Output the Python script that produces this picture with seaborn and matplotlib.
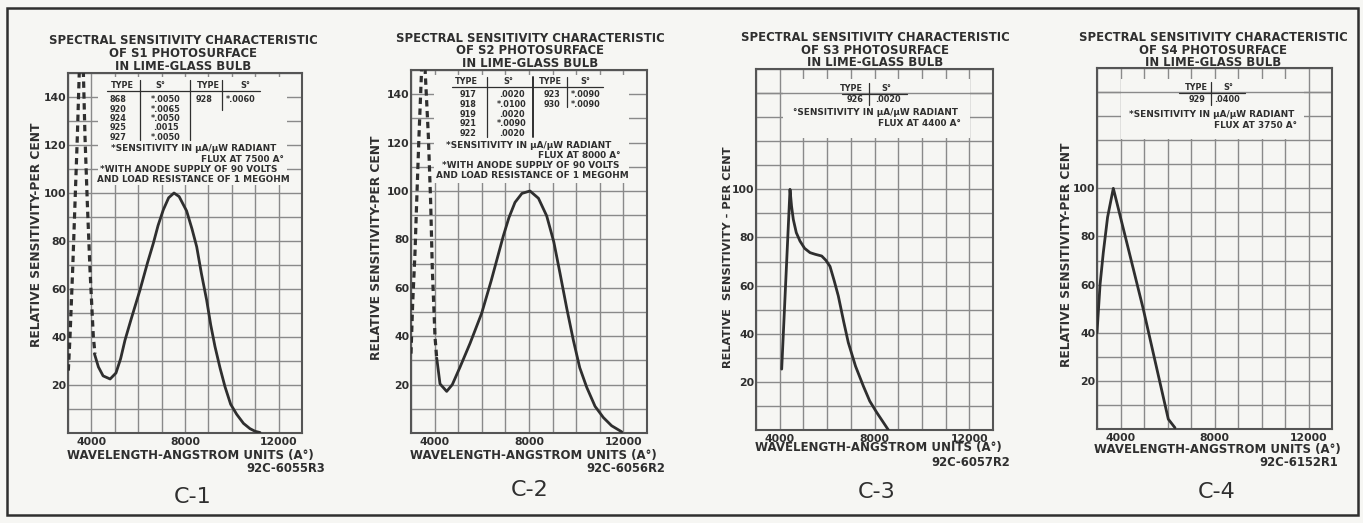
import matplotlib
matplotlib.use("Agg")
import matplotlib.pyplot as plt
import seaborn as sns
from matplotlib.patches import Rectangle
from matplotlib.lines import Line2D

W, H = 1363, 523

# --- S1 photosurface (C-1) ---
s1_wave = [4130, 4300, 4500, 4800, 5050, 5250, 5436, 5700, 6077, 6400, 6645, 6850,
           7073, 7300, 7530, 7750, 8070, 8300, 8500, 8700, 8925, 9100, 9282, 9500,
           9709, 9950, 10208, 10500, 10778, 11000, 11205]
s1_sens = [33, 27.5, 23.8, 22.5, 25, 31, 38.7, 47.5, 59.6, 71, 79, 86.5,
           93, 98, 100, 98.5, 92.5, 85, 77.6, 66.5, 55.4, 45, 36, 27,
           19.3, 12, 7.8, 4, 1.8, 0.7, 0.2]
s1_uv_left_wave = [3014, 3085, 3199, 3299, 3399, 3484]
s1_uv_left_sens = [26, 40, 68, 95.8, 123.5, 151]
s1_uv_right_wave = [3655, 3726, 3826, 3940, 4083, 4154]
s1_uv_right_sens = [151, 123.5, 95.8, 68, 40, 33]

# --- S2 photosurface (C-2) ---
s2_wave = [4090, 4229, 4512, 4750, 5076, 5500, 5995, 6400, 6911, 7150, 7407, 7700,
           8042, 8400, 8750, 9050, 9314, 9600, 9880, 10150, 10445, 10800, 11150,
           11500, 11928]
s2_sens = [31, 20.3, 17.2, 20, 27.2, 37, 49.5, 63, 81.4, 89, 95.3, 99,
           100, 97, 89.7, 79, 66, 51.5, 38.3, 27, 18.9, 11, 6.4,
           3, 0.5]
s2_uv_left_wave = [3000, 3071, 3169, 3240, 3339, 3453]
s2_uv_left_sens = [32.8, 53.6, 74.5, 95.3, 123, 151]
s2_uv_right_wave = [3593, 3734, 3833, 3904, 4017, 4089]
s2_uv_right_sens = [151, 123, 95.3, 67.5, 39.7, 31]

# --- S3 photosurface (C-3) ---
s3_wave = [4084, 4435, 4500, 4574, 4700, 4857, 5050, 5278, 5500, 5772, 5950, 6122,
           6300, 6473, 6700, 6895, 7200, 7527, 7800, 8093, 8350, 8586]
s3_sens = [25.3, 100, 93, 87.5, 82, 78.5, 75.5, 73.7, 73, 72.3, 70.5, 68,
           62, 55.7, 45, 36.3, 26.5, 18.3, 12, 7.3, 3.5, 0]

# --- S4 photosurface (C-4) ---
s4_wave = [3000, 3130, 3268, 3450, 3694, 4330, 4970, 5500, 6034, 6319]
s4_sens = [40, 60, 73.3, 88, 100, 75, 49.8, 27, 4.1, 0.5]

# table contents
s1_types = ["868", "920", "924", "925", "927"]
s1_s0 = ["*.0050", "*.0065", "*.0050", ".0015", "*.0050"]
s1_types_b = ["928"]
s1_s0_b = ["*.0060"]
s2_types = ["917", "918", "919", "921", "922"]
s2_s0 = [".0020", "*.0100", ".0020", "*.0090", ".0020"]
s2_types_b = ["923", "930"]
s2_s0_b = ["*.0090", "*.0090"]
s3_types = ["926"]
s3_s0 = [".0020"]
s4_types = ["929"]
s4_s0 = [".0400"]

surfaces = ["S1", "S2", "S3", "S4"]
flux_at = ["7500", "8000", "4400", "3750"]
drawing_codes = ["92C-6055R3", "92C-6056R2", "92C-6057R2", "92C-6152R1"]
figure_tags = ["C-1", "C-2", "C-3", "C-4"]
yticks_tall = [20, 40, 60, 80, 100, 120, 140]
yticks_short = [20, 40, 60, 80, 100]
xticks = [4000, 8000, 12000]

INK = "#2f2f2f"
GRID = "#8a8a8a"
PAPER = "#f6f6f3"

sns.set_style("white")
plt.rcParams["font.family"] = ["DejaVu Sans"]
plt.rcParams["font.weight"] = "bold"

fig = plt.figure(figsize=(W / 100, H / 100), dpi=100, facecolor=PAPER)


def fp(px, py):
    return px / W, 1 - py / H


def ftext(px, py, s, size, ha="center", weight="bold", **kw):
    x, y = fp(px, py)
    fig.text(x, y, s, fontsize=size, ha=ha, va="center", color=INK,
             fontweight=weight, **kw)


def fline(xs, ys, lw=0.9):
    xx = [x / W for x in xs]
    yy = [1 - y / H for y in ys]
    fig.add_artist(Line2D(xx, yy, transform=fig.transFigure, color=INK, lw=lw))


# pixel boxes of the four plot areas: left, top, right, bottom
boxes = [(68, 73, 302, 433), (411, 70, 647, 433), (756, 69, 993, 430), (1097, 68, 1332, 429)]
blank_boxes = [(4280, 103.5, 12360, 148.5), (3990, 103.5, 12230, 148),
               (4140, 121.5, 12030, 146), (4000, 120.5, 11800, 145.5)]

axes = []
for i, (l, t, r, b) in enumerate(boxes):
    ax = fig.add_axes([l / W, 1 - b / H, (r - l) / W, (b - t) / H])
    ax.set_facecolor(PAPER)
    ax.set_xlim(3000, 13000)
    ax.set_ylim(0, 150)
    ax.set_xticks(xticks)
    ax.set_xticks(range(3000, 13001, 1000), minor=True)
    ax.set_yticks(yticks_tall if i < 2 else yticks_short)
    ax.set_yticks(range(0, 151, 10), minor=True)
    ax.grid(which="both", color=GRID, lw=1.0)
    ax.set_axisbelow(True)
    ax.tick_params(which="both", length=0, labelsize=7.8, colors=INK)
    ax.tick_params(axis="x", pad=3.0)
    ax.tick_params(axis="y", pad=1.2)
    for lab in ax.get_xticklabels() + ax.get_yticklabels():
        lab.set_fontweight("bold")
    for sp in ax.spines.values():
        sp.set_color("#555555")
        sp.set_linewidth(1.5)
    x0, y0, x1, y1 = blank_boxes[i]
    ax.add_patch(Rectangle((x0, y0), x1 - x0, y1 - y0, facecolor=PAPER,
                           edgecolor="none", zorder=1))
    if i >= 2:
        ax.axhline(140, color=GRID, lw=1.0, zorder=1.2)
    axes.append(ax)

solid_kw = dict(color=INK, lw=2.0, sort=False, zorder=3)
dash_kw = dict(color=INK, lw=2.3, sort=False, zorder=3, linestyle=(0, (2.0, 1.4)))

sns.lineplot(x=s1_wave, y=s1_sens, ax=axes[0], **solid_kw)
sns.lineplot(x=s1_uv_left_wave, y=s1_uv_left_sens, ax=axes[0], **dash_kw)
sns.lineplot(x=s1_uv_right_wave, y=s1_uv_right_sens, ax=axes[0], **dash_kw)
sns.lineplot(x=s2_wave, y=s2_sens, ax=axes[1], **solid_kw)
sns.lineplot(x=s2_uv_left_wave, y=s2_uv_left_sens, ax=axes[1], **dash_kw)
sns.lineplot(x=s2_uv_right_wave, y=s2_uv_right_sens, ax=axes[1], **dash_kw)
sns.lineplot(x=s3_wave, y=s3_sens, ax=axes[2], **solid_kw)
sns.lineplot(x=s4_wave, y=s4_sens, ax=axes[3], **solid_kw)

for ax in axes:
    ax.set_xlabel("")
    ax.set_ylabel("")

# titles, axis labels, codes, tags
title_pos = [(183, 53.5), (530, 51), (875, 50), (1213, 50)]
ylabel_pos = [(37, 235), (377, 248), (728, 257), (1066, 255)]
xlabel_pos = [(190, 455), (533, 455), (878, 448), (1217, 450)]
code_pos = [(325, 468), (665, 468), (1010, 462), (1338, 463)]
tag_pos = [(193, 497), (530, 490), (877, 492), (1217, 492)]
for i in range(4):
    ftext(*title_pos[i], "SPECTRAL SENSITIVITY CHARACTERISTIC\nOF %s PHOTOSURFACE\nIN LIME-GLASS BULB"
          % surfaces[i], 8.4, linespacing=0.98)
    ylab = "RELATIVE SENSITIVITY-PER CENT" if i != 2 else "RELATIVE  SENSITIVITY - PER CENT"
    ftext(*ylabel_pos[i], ylab, 8.8 if i != 2 else 8.2, rotation=90)
    ftext(*xlabel_pos[i], "WAVELENGTH-ANGSTROM UNITS (A°)", 8.5)
    ftext(*code_pos[i], drawing_codes[i], 8.4, ha="right")
    ftext(*tag_pos[i], figure_tags[i], 16, weight="normal")

# --- tables of type / sensitivity ---
TS = 5.9
NS = 6.4
# C-1
for s, x in [("TYPE", 122), ("S°", 160), ("TYPE", 208), ("S°", 245)]:
    ftext(x, 85, s, TS)
fline([107, 260], [90.7, 90.7])
fline([140, 140], [80, 140]); fline([190, 190], [80, 140]); fline([222, 222], [80, 110])
for k, yy in enumerate([99.3, 109.3, 118.7, 128, 137.3]):
    ftext(118, yy, s1_types[k], TS)
    ftext(166, yy, s1_s0[k], TS)
ftext(204, 99.3, s1_types_b[0], TS)
ftext(241, 99.3, s1_s0_b[0], TS)
ftext(194, 148.3, "*SENSITIVITY IN \u03bcA/\u03bcW RADIANT", NS)
ftext(284, 159.3, "FLUX AT %s A°" % flux_at[0], NS, ha="right")
ftext(189, 169.3, "*WITH ANODE SUPPLY OF 90 VOLTS", NS)
ftext(193, 179, "AND LOAD RESISTANCE OF 1 MEGOHM", NS)

# C-2
for s, x in [("TYPE", 466.7), ("S°", 508.3), ("TYPE", 550), ("S°", 585)]:
    ftext(x, 81, s, TS)
fline([451.7, 603], [87.3, 87.3])
fline([486.7, 486.7], [77, 137]); fline([533.3, 533.3], [77, 137], lw=1.4)
fline([566.7, 566.7], [77, 107])
for k, yy in enumerate([95, 104.3, 114, 123.3, 133.3]):
    ftext(468.3, yy, s2_types[k], TS)
    ftext(512, yy, s2_s0[k], TS)
for k, yy in enumerate([95, 104.3]):
    ftext(551.7, yy, s2_types_b[k], TS)
    ftext(586, yy, s2_s0_b[k], TS)
ftext(529, 145, "*SENSITIVITY IN \u03bcA/\u03bcW RADIANT", NS)
ftext(621, 155.3, "FLUX AT %s A°" % flux_at[1], NS, ha="right")
ftext(531, 165.7, "*WITH ANODE SUPPLY OF 90 VOLTS", NS)
ftext(532, 176, "AND LOAD RESISTANCE OF 1 MEGOHM", NS)

# C-3
ftext(851.7, 88.3, "TYPE", TS); ftext(886.7, 88.3, "S°", TS)
fline([841.7, 906.7], [94, 94]); fline([869.3, 869.3], [83, 105])
ftext(855, 100, s3_types[0], TS); ftext(888.3, 100, s3_s0[0], TS)
ftext(875, 112.7, "°SENSITIVITY IN \u03bcA/\u03bcW RADIANT", NS)
ftext(961, 123.3, "FLUX AT %s A°" % flux_at[2], NS, ha="right")

# C-4
ftext(1196.7, 87.3, "TYPE", TS); ftext(1228.3, 87.3, "S°", TS)
fline([1179, 1245], [93.3, 93.3]); fline([1210.7, 1210.7], [82, 105])
ftext(1196.7, 100, s4_types[0], TS); ftext(1226.7, 100, s4_s0[0], TS)
ftext(1211.7, 114.3, "*SENSITIVITY IN \u03bcA/\u03bcW RADIANT", NS)
ftext(1297, 125, "FLUX AT %s A°" % flux_at[3], NS, ha="right")

# outer frame
fig.add_artist(Rectangle((7 / W, 1 - 515 / H), (1358 - 7) / W, (515 - 8) / H,
                         transform=fig.transFigure, fill=False, edgecolor=INK, lw=1.8))

fig.savefig("out.png", dpi=100, facecolor=PAPER)
